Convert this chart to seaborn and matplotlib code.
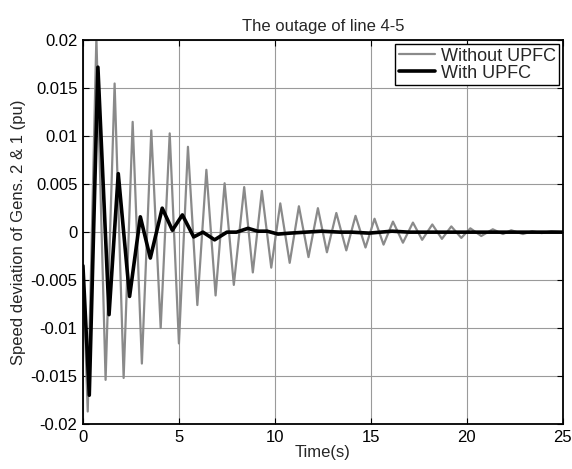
import pandas as pd
import matplotlib
matplotlib.use("Agg")
import matplotlib.pyplot as plt
import seaborn as sns

# Style: plain white axes, MATLAB-like look
sns.set_theme(style="white")
plt.rcParams['font.family'] = ['Liberation Sans', 'DejaVu Sans']

# Values (peaks / troughs of each response)
t_without = [0, 0.25, 0.70, 1.18, 1.65, 2.12, 2.59, 3.07, 3.56, 4.05, 4.52, 5.00,
             5.47, 5.96, 6.43, 6.91, 7.38, 7.86, 8.40, 8.85, 9.32, 9.81, 10.28,
             10.77, 11.25, 11.75, 12.24, 12.71, 13.20, 13.72, 14.20, 14.72, 15.19,
             15.66, 16.15, 16.67, 17.19, 17.67, 18.20, 18.70, 19.19, 19.71, 20.18,
             20.75, 21.35, 21.88, 22.31, 22.92, 23.4, 23.9, 24.4, 25.0]
speed_without = [-0.0040, -0.0187, 0.0203, -0.0154, 0.0155, -0.0152, 0.0115, -0.0137,
                 0.0106, -0.0100, 0.0103, -0.0116, 0.0089, -0.0076, 0.0065, -0.0066,
                 0.0051, -0.0055, 0.0047, -0.0042, 0.0043, -0.0037, 0.0030, -0.0032,
                 0.0027, -0.0026, 0.0025, -0.0021, 0.0020, -0.0019, 0.0017, -0.0016,
                 0.0014, -0.0013, 0.0011, -0.0011, 0.0010, -0.0008, 0.0008, -0.0007,
                 0.0006, -0.0006, 0.0004, -0.0004, 0.0003, -0.0002, 0.0002, -0.0002,
                 0.0001, -0.0001, 0.0001, 0.0]

t_with = [0, 0.33, 0.78, 1.36, 1.84, 2.43, 2.99, 3.51, 4.13, 4.66, 5.18, 5.77, 6.25,
          6.86, 7.5, 8.0, 8.6, 9.1, 9.6, 10.16, 10.8, 11.6, 12.41, 13.4, 14.0, 14.9,
          16.1, 17.0, 18.0, 19.0, 20.0, 21.0, 22.0, 23.0, 24.0, 25.0]
speed_with = [-0.0035, -0.0170, 0.0172, -0.0086, 0.0061, -0.0067, 0.0016, -0.0027,
              0.0025, 0.0002, 0.0018, -0.0005, 0.0000, -0.0008, 0.0000, 0.0000,
              0.0004, 0.0001, 0.0001, -0.0002, -0.0001, 0.0000, 0.0001, 0.0000,
              0.0000, -0.0001, 0.0001, 0.0, 0.0, 0.0, 0.0, 0.0, 0.0, 0.0, 0.0, 0.0]

x_ticks = [0, 5, 10, 15, 20, 25]
y_ticks = [-0.02, -0.015, -0.01, -0.005, 0, 0.005, 0.01, 0.015, 0.02]
y_tick_labels = ['-0.02', '-0.015', '-0.01', '-0.005', '0', '0.005', '0.01', '0.015', '0.02']

df = pd.concat([
    pd.DataFrame({'t': t_without, 'speed': speed_without, 'case': 'Without UPFC'}),
    pd.DataFrame({'t': t_with, 'speed': speed_with, 'case': 'With UPFC'}),
])

fig = plt.figure(figsize=(5.72, 4.69), dpi=100)
ax = fig.add_axes([0.145, 0.096, 0.839, 0.818])

sns.lineplot(data=df[df['case'] == 'Without UPFC'], x='t', y='speed', color='#8a8a8a',
             linewidth=1.6, estimator=None, sort=False, label='Without UPFC', ax=ax)
sns.lineplot(data=df[df['case'] == 'With UPFC'], x='t', y='speed', color='black',
             linewidth=2.6, estimator=None, sort=False, label='With UPFC', ax=ax)

ax.set_xlim(0, 25)
ax.set_ylim(-0.02, 0.02)
ax.set_xticks(x_ticks)
ax.set_xticklabels([str(v) for v in x_ticks])
ax.set_yticks(y_ticks)
ax.set_yticklabels(y_tick_labels)
ax.grid(True, color='#9a9a9a', linewidth=0.8)
ax.tick_params(direction='in', length=4, width=0.8, colors='black', labelsize=12,
               top=True, right=True, bottom=True, left=True, pad=4)
for s in ax.spines.values():
    s.set_color('black')
    s.set_linewidth(1.3)

ax.set_title('The outage of line 4-5', fontsize=12, pad=7)
ax.set_xlabel('Time(s)', fontsize=12, labelpad=0)
ax.set_ylabel('Speed deviation of Gens. 2 & 1 (pu)', fontsize=12, labelpad=3)

leg = ax.legend(loc='upper right', fontsize=13, frameon=True, fancybox=False,
                edgecolor='black', framealpha=1, handlelength=2.0, handletextpad=0.3,
                borderaxespad=0.2, borderpad=0.2, labelspacing=0.0)
leg.get_frame().set_linewidth(1.0)

fig.savefig('out.png', dpi=100)
